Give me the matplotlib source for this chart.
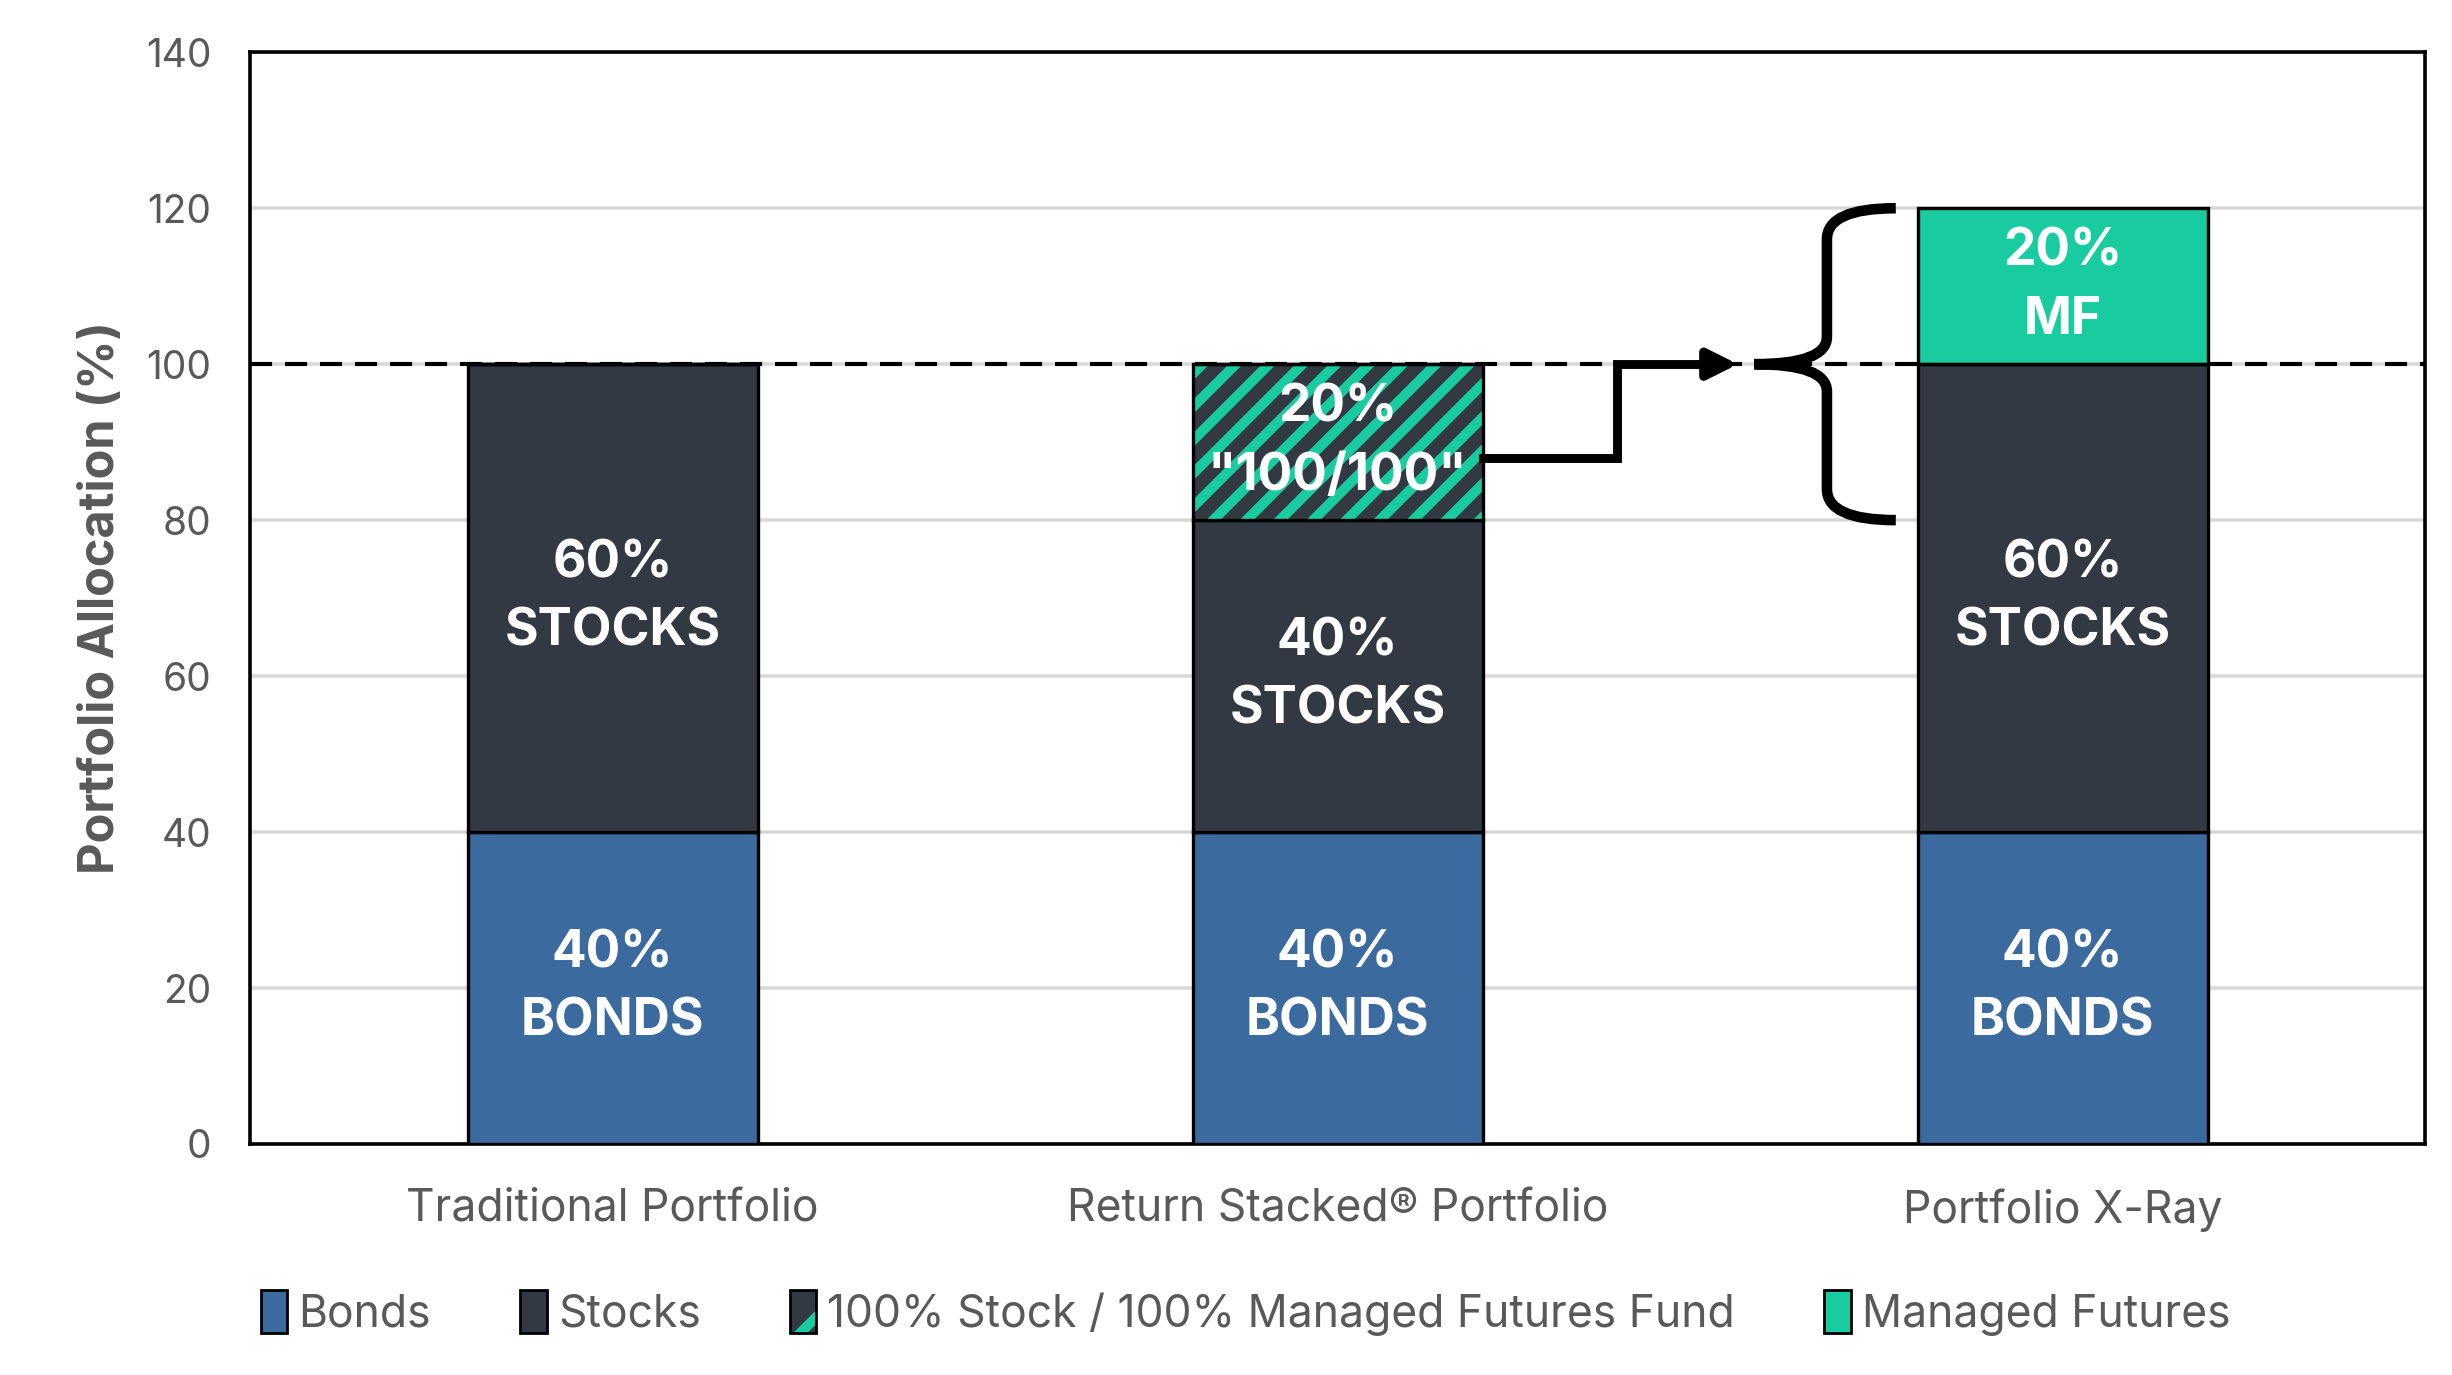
import matplotlib
matplotlib.use("Agg")
import matplotlib.pyplot as plt
from matplotlib.patches import Patch, PathPatch
from matplotlib.path import Path
import numpy as np

plt.rcParams.update({
    "font.family": ["Inter", "DejaVu Sans"],
    "hatch.linewidth": 3.6,
})

# data
portfolios = ["Traditional Portfolio", "Return Stacked\u00ae Portfolio", "Portfolio X-Ray"]
bonds = [40, 40, 40]
stocks = [60, 40, 60]
stacked_fund = [0, 20, 0]
managed_futures = [0, 0, 20]

bonds_lbl = ["40%\nBONDS", "40%\nBONDS", "40%\nBONDS"]
stocks_lbl = ["60%\nSTOCKS", "40%\nSTOCKS", "60%\nSTOCKS"]
fund_lbl = ["", "20%\n\"100/100\"", ""]
mf_lbl = ["", "", "20%\nMF"]

BONDS_C = "#3b6a9e"
STOCKS_C = "#323943"
MF_C = "#19cca0"
GRAY = "#595959"

fig = plt.figure(figsize=(12.26, 6.875), dpi=200)
ax = fig.add_axes([0.102, 0.168, 0.887, 0.794])

x = np.arange(len(portfolios))
w = 0.4
bonds = np.array(bonds)
stocks = np.array(stocks)
stacked_fund = np.array(stacked_fund)
managed_futures = np.array(managed_futures)

ax.bar(x, bonds, w, color=BONDS_C, edgecolor="black", lw=1.2, zorder=3)
ax.bar(x, stocks, w, bottom=bonds, color=STOCKS_C, edgecolor="black", lw=1.2, zorder=3)
base3 = bonds + stocks
# hatched fund: teal stripes on dark fill, black outline drawn on top
ax.bar(x, stacked_fund, w, bottom=base3, color=STOCKS_C, edgecolor=MF_C, hatch="//", lw=0, zorder=3)
ax.bar(x, stacked_fund, w, bottom=base3, fill=False, edgecolor="black", lw=1.2, zorder=4)
base4 = base3 + stacked_fund
ax.bar(x, managed_futures, w, bottom=base4, color=MF_C, edgecolor="black", lw=1.2, zorder=3)

lbl_kw = dict(ha="center", va="center", color="white", fontsize=18.5, fontweight="bold",
              linespacing=1.5, zorder=6)
for i in range(len(x)):
    ax.text(x[i], bonds[i] / 2, bonds_lbl[i], **lbl_kw)
    ax.text(x[i], bonds[i] + stocks[i] / 2, stocks_lbl[i], **lbl_kw)
    if stacked_fund[i]:
        ax.text(x[i], base3[i] + stacked_fund[i] / 2, fund_lbl[i], **lbl_kw)
    if managed_futures[i]:
        ax.text(x[i], base4[i] + managed_futures[i] / 2, mf_lbl[i], **lbl_kw)

# 100% reference line
ax.axhline(100, color="black", lw=1.5, dashes=(5.3, 3.1), zorder=2)

ax.set_xlim(-0.5, 2.5)
ax.set_ylim(0, 140)
ax.set_yticks(range(0, 141, 20))
ax.set_xticks(x)
ax.set_xticklabels(portfolios)
ax.tick_params(axis="both", length=0, colors=GRAY, labelsize=14)
ax.tick_params(axis="x", pad=16, labelsize=16)
ax.tick_params(axis="y", pad=14)
ax.grid(axis="y", color="#d9d9d9", lw=1.3, zorder=0)
ax.set_axisbelow(True)
for s in ax.spines.values():
    s.set_color("black")
    s.set_linewidth(1.3)

ax.set_ylabel("Portfolio Allocation (%)", fontsize=17.5, fontweight="bold", color=GRAY)
ax.yaxis.set_label_coords(-0.058, 0.5)

# connector from the 100/100 sleeve to the brace
fund_top = base4[1]
fund_bot = base3[1]
ax.plot([x[1] + w / 2, 1.385, 1.385, 1.52], [88, 88, fund_top, fund_top],
        color="black", lw=3.2, solid_joinstyle="miter", zorder=5, clip_on=False)
ax.annotate("", xy=(1.56, fund_top), xytext=(1.50, fund_top),
            arrowprops=dict(arrowstyle="-|>", color="black", lw=3.2, mutation_scale=22),
            zorder=5)

# curly brace spanning 80..120
top = base4[2] + managed_futures[2]
bot = fund_bot
mid = fund_top
xs, xt, xe = 1.675, 1.575, 1.77
verts = [(xe, top), (xs, top), (xs, top - 4),
         (xs, mid + 3.5), (xs, mid), (xt, mid),
         (xs, mid), (xs, mid - 3.5),
         (xs, bot + 4), (xs, bot), (xe, bot)]
codes = [Path.MOVETO, Path.CURVE3, Path.CURVE3,
         Path.LINETO, Path.CURVE3, Path.CURVE3,
         Path.CURVE3, Path.CURVE3,
         Path.LINETO, Path.CURVE3, Path.CURVE3]
ax.add_patch(PathPatch(Path(verts, codes), fill=False, lw=3.8, color="black",
                       capstyle="butt", zorder=5))

# hatched swatch overlaid with a black outline (tuple handles are overlaid)
hatch_handle = (Patch(facecolor=STOCKS_C, edgecolor=MF_C, hatch="/", lw=0),
                Patch(fill=False, edgecolor="black", lw=1))
handles = [
    Patch(facecolor=BONDS_C, edgecolor="black", lw=1),
    Patch(facecolor=STOCKS_C, edgecolor="black", lw=1),
    hatch_handle,
    Patch(facecolor=MF_C, edgecolor="black", lw=1),
]
labels = ["Bonds", "Stocks", "100% Stock / 100% Managed Futures Fund", "Managed Futures"]
leg = fig.legend(handles, labels, loc="center", bbox_to_anchor=(0.508, 0.045), ncol=4,
                 frameon=False, fontsize=16, handlelength=0.6, handleheight=1.1,
                 handletextpad=0.25, columnspacing=2.0)
for t in leg.get_texts():
    t.set_color(GRAY)

fig.savefig("out.png", dpi=200)
